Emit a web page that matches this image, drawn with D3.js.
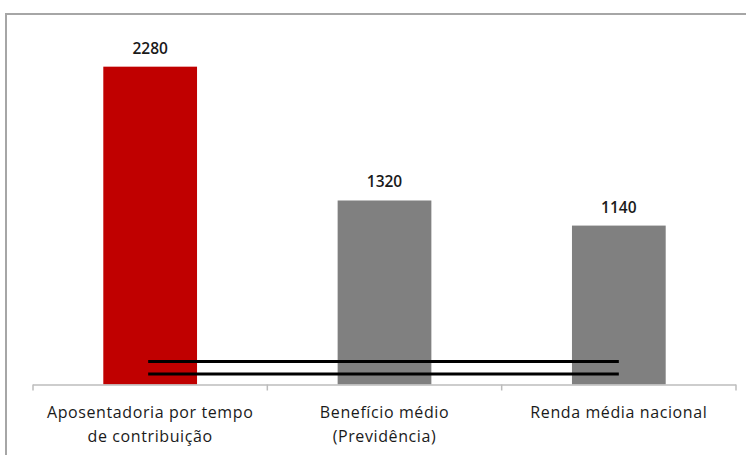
<!DOCTYPE html>
<html><head><meta charset="utf-8">
<script src="https://cdn.jsdelivr.net/npm/d3@7/dist/d3.min.js"></script>
<style>body{margin:0;background:#fff}svg{display:block}</style>
</head><body>
<script>
const categories = [["Aposentadoria por tempo","de contribuição"],["Benefício médio","(Previdência)"],["Renda média nacional"]];
const values = [2280, 1320, 1140];
const barColors = ["#C00000", "#808080", "#808080"];
const breakLevels = [165, 75];

const W = 746, H = 455;
const svg = d3.select("body").append("svg").attr("width", W).attr("height", H);

// frame
svg.append("rect").attr("x", 6).attr("y", 14).attr("width", W + 10).attr("height", H + 10)
  .attr("fill", "#fff").attr("stroke", "#a6a6a6").attr("stroke-width", 2);

const x = d3.scaleBand().domain(d3.range(values.length)).range([33, 736]).paddingInner(0.6).paddingOuter(0.3);
const y = d3.scaleLinear().domain([0, 2500]).range([384.5, 36]);

svg.selectAll("rect.bar").data(values).join("rect").attr("class", "bar")
  .attr("x", (d, i) => x(i)).attr("width", x.bandwidth())
  .attr("y", d => y(d)).attr("height", d => y(0) - y(d))
  .attr("fill", (d, i) => barColors[i]);

svg.selectAll("text.val").data(values).join("text").attr("class", "val")
  .attr("x", (d, i) => x(i) + x.bandwidth() / 2).attr("y", d => y(d) - 13)
  .attr("text-anchor", "middle").attr("font-family", "Open Sans").attr("font-weight", "600")
  .attr("font-size", 15.5).attr("fill", "#1a1a1a").text(d => d);

// axis
const step = (736 - 33) / values.length;
const axisG = svg.append("g");
axisG.append("line").attr("x1", 33).attr("x2", 736).attr("y1", y(0) + 0.5).attr("y2", y(0) + 0.5)
  .attr("stroke", "#bcbcbc").attr("stroke-width", 1.5);
d3.range(values.length + 1).forEach(i => {
  axisG.append("line").attr("x1", 33 + i * step).attr("x2", 33 + i * step)
    .attr("y1", y(0)).attr("y2", y(0) + 6).attr("stroke", "#bcbcbc").attr("stroke-width", 1.5);
});

// break lines
breakLevels.forEach(v => {
  svg.append("line").attr("x1", x(0) + x.bandwidth() / 2 - 2).attr("x2", x(values.length - 1) + x.bandwidth() / 2)
    .attr("y1", y(v)).attr("y2", y(v)).attr("stroke", "#000").attr("stroke-width", 3);
});

// category labels
categories.forEach((lines, i) => {
  const t = svg.append("text").attr("text-anchor", "middle").attr("font-family", "Open Sans")
    .attr("font-size", 16).attr("letter-spacing", 0.6).attr("fill", "#1a1a1a");
  lines.forEach((ln, j) => {
    t.append("tspan").attr("x", x(i) + x.bandwidth() / 2).attr("y", 418 + j * 24).text(ln);
  });
});
</script>
</body></html>
